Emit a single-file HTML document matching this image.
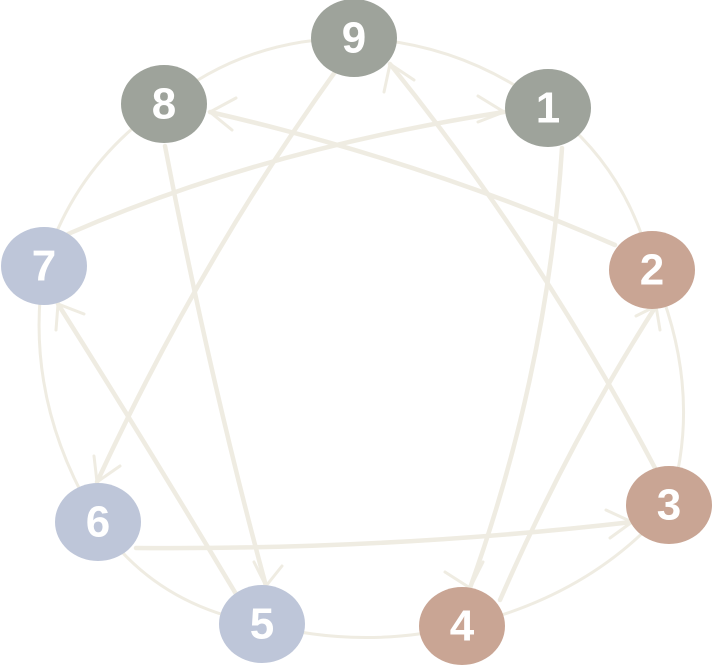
<!DOCTYPE html>
<html><head><meta charset="utf-8"><style>
html,body{margin:0;padding:0;background:#fff}
svg{display:block}
text{font-family:"Liberation Sans",sans-serif;font-weight:bold;font-size:44px;fill:#fff;text-anchor:middle;dominant-baseline:central}
</style></head><body>
<svg width="713" height="666" viewBox="0 0 713 666">
<g fill="none" stroke="#efece2" stroke-width="3" stroke-linecap="round">
<path d="M354 38 Q462 42 548 108 Q628 168 652 270 Q705 392 669 505 Q592 596 462 626 Q362 650 262 624 Q155 606 98 522 Q22 399 44 266 Q75 165 164 104 Q245 38 354 38"/>
</g>
<g fill="none" stroke="#efece2" stroke-width="4.5" stroke-linecap="round">
<path d="M562 148 Q548 370 470 588"/>
<path d="M500 600 Q570 440 656 306"/>
<path d="M615 245 Q420 160 210 112"/>
<path d="M165 146 Q210 380 266 586"/>
<path d="M236 594 Q150 450 58 304"/>
<path d="M68 234 Q260 150 504 112"/>
<path d="M335 72 Q200 260 97 482"/>
<path d="M136 548 Q390 550 632 522"/>
<path d="M655 468 Q540 250 390 64"/>
</g>
<g fill="none" stroke="#efece2" stroke-width="3" stroke-linecap="round">
<path d="M445 572 L470 588 L483 562"/>
<path d="M636 316 L656 306 L660 330"/>
<path d="M236 98 L210 112 L232 130"/>
<path d="M254 562 L266 586 L282 566"/>
<path d="M56 330 L58 304 L84 314"/>
<path d="M478 96 L504 112 L478 122"/>
<path d="M94 456 L97 482 L120 466"/>
<path d="M606 510 L632 522 L610 538"/>
<path d="M384 92 L390 64 L414 80"/>
</g>
<g>
<ellipse cx="354" cy="38" rx="43" ry="39" fill="#9ea39b"/>
<ellipse cx="164" cy="104" rx="43" ry="39" fill="#9ea39b"/>
<ellipse cx="548" cy="108" rx="43" ry="39" fill="#9ea39b"/>
<ellipse cx="44" cy="266" rx="43" ry="39" fill="#bec6d9"/>
<ellipse cx="652" cy="270" rx="43" ry="39" fill="#c9a594"/>
<ellipse cx="98" cy="522" rx="43" ry="39" fill="#bec6d9"/>
<ellipse cx="669" cy="505" rx="43" ry="39" fill="#c9a594"/>
<ellipse cx="262" cy="624" rx="43" ry="39" fill="#bec6d9"/>
<ellipse cx="462" cy="626" rx="43" ry="39" fill="#c9a594"/>
</g>
<text x="354" y="38">9</text>
<text x="164" y="104">8</text>
<text x="548" y="108">1</text>
<text x="44" y="266">7</text>
<text x="652" y="270">2</text>
<text x="98" y="522">6</text>
<text x="669" y="505">3</text>
<text x="262" y="624">5</text>
<text x="462" y="626">4</text>
</svg>
</body></html>
